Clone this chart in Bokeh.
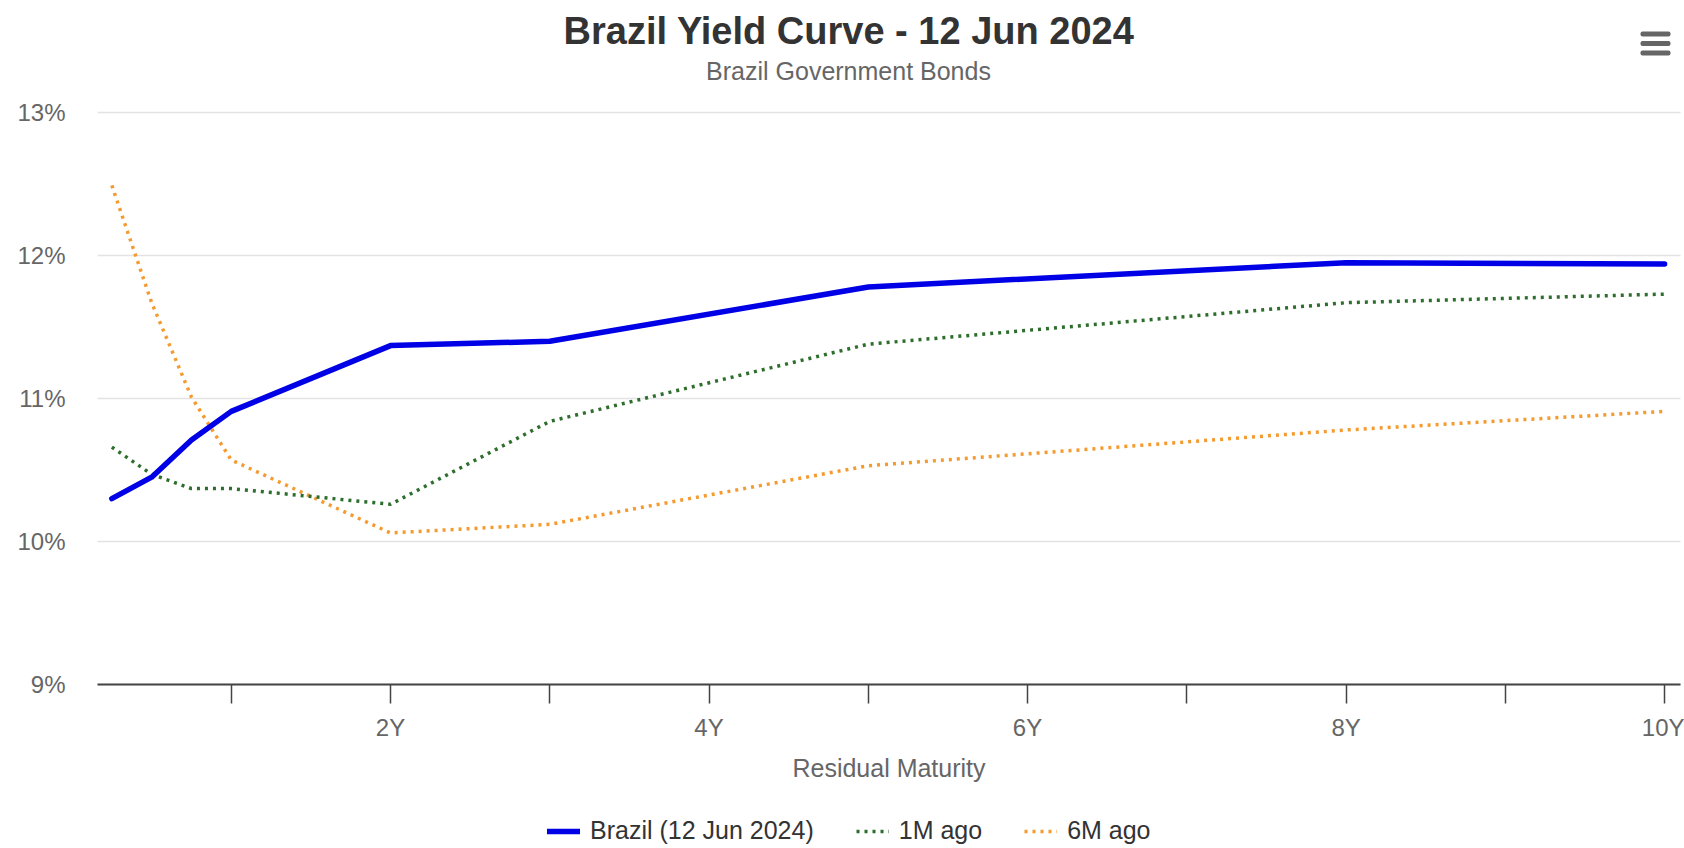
from bokeh.plotting import figure
from bokeh.models import (Label, Legend, LegendItem, FixedTicker, Range1d,
                          BoxAnnotation, ColumnDataSource)
from bokeh.embed import file_html
from bokeh.resources import INLINE

# ---------------- data ----------------
maturity_years = [0.25, 0.5, 0.75, 1, 2, 3, 5, 8, 10]
brazil_now = [10.30, 10.45, 10.71, 10.91, 11.37, 11.40, 11.78, 11.95, 11.94]
one_month_ago = [10.66, 10.47, 10.37, 10.37, 10.26, 10.84, 11.38, 11.67, 11.73]
six_months_ago = [12.49, 11.67, 11.01, 10.57, 10.06, 10.12, 10.53, 10.78, 10.91]

series_names = ["Brazil (12 Jun 2024)", "1M ago", "6M ago"]
x_tick_values = [1, 2, 3, 4, 5, 6, 7, 8, 9, 10]
x_tick_labels = ["", "2Y", "", "4Y", "", "6Y", "", "8Y", "", "10Y"]
y_tick_values = [9, 10, 11, 12, 13]
y_tick_labels = ["9%", "10%", "11%", "12%", "13%"]

title_text = "Brazil Yield Curve - 12 Jun 2024"
subtitle_text = "Brazil Government Bonds"
x_axis_title = "Residual Maturity"

FONT = "Liberation Sans"

# ---------------- layout (pixels of the 1684x848 canvas) ----------------
W, H = 1684, 848
PLOT_L, PLOT_R = 97, 1680        # plotting area, left/right
PLOT_T, PLOT_B = 112, 684        # rows of 13% and 9%
X0, X1 = 0.16, 10.10             # years at PLOT_L / PLOT_R
Y0, Y1 = 9, 13                   # values at PLOT_B / PLOT_T

px_per_x = (PLOT_R - PLOT_L) / (X1 - X0)
px_per_y = (PLOT_B - PLOT_T) / (Y1 - Y0)
x_range = Range1d(X0 - PLOT_L / px_per_x, X1 + (W - PLOT_R) / px_per_x)
y_range = Range1d(Y0 - (H - PLOT_B) / px_per_y, Y1 + PLOT_T / px_per_y)

src = ColumnDataSource(dict(x=maturity_years, now=brazil_now,
                            m1=one_month_ago, m6=six_months_ago))

p = figure(width=W, height=H, output_backend="svg", toolbar_location=None,
           x_range=x_range, y_range=y_range,
           min_border_left=0, min_border_right=0, min_border_top=0,
           min_border_bottom=0)
p.outline_line_color = None
p.background_fill_color = "white"
p.border_fill_color = "white"
p.xgrid.grid_line_color = None
p.ygrid.grid_line_color = None

# horizontal grid lines across the plotting area
grid_src = ColumnDataSource(dict(x0=[X0] * len(y_tick_values),
                                 x1=[X1] * len(y_tick_values),
                                 y=y_tick_values))
p.segment(x0="x0", x1="x1", y0="y", y1="y", source=grid_src,
          line_color="#e3e3e3", line_width=1.5)

# x axis, pinned at the 9% level
xa = p.xaxis[0]
xa.fixed_location = Y0
xa.bounds = (X0, X1)
xa.ticker = FixedTicker(ticks=x_tick_values)
xa.major_label_overrides = {v: l for v, l in zip(x_tick_values, x_tick_labels)}
xa.axis_line_color = "#444444"
xa.axis_line_width = 2
xa.major_tick_line_color = "#444444"
xa.major_tick_line_width = 1.5
xa.major_tick_out = 19
xa.major_tick_in = 0
xa.minor_tick_line_color = None
xa.major_label_standoff = 10
xa.major_label_text_font = FONT
xa.major_label_text_font_size = "24px"
xa.major_label_text_color = "#666666"
xa.axis_label = x_axis_title
xa.axis_label_text_font = FONT
xa.axis_label_text_font_size = "25px"
xa.axis_label_text_font_style = "normal"
xa.axis_label_text_color = "#666666"
xa.axis_label_standoff = 10

# y axis, pinned at the left edge of the plotting area
ya = p.yaxis[0]
ya.fixed_location = X0
ya.bounds = (Y0, Y1)
ya.ticker = FixedTicker(ticks=y_tick_values)
ya.major_label_overrides = {v: l for v, l in zip(y_tick_values, y_tick_labels)}
ya.axis_line_color = None
ya.major_tick_line_color = None
ya.minor_tick_line_color = None
ya.major_tick_out = 0
ya.major_tick_in = 0
ya.major_label_standoff = 32
ya.major_label_text_font = FONT
ya.major_label_text_font_size = "24px"
ya.major_label_text_color = "#666666"

# lines
r6 = p.line("x", "m6", source=src, line_color="#f59a2f", line_width=3.5,
            line_dash="3 5")
r1 = p.line("x", "m1", source=src, line_color="#2d6e2d", line_width=3.5,
            line_dash="3 5")
r0 = p.line("x", "now", source=src, line_color="#0000e6", line_width=5.5,
            line_join="round", line_cap="round")

legend = Legend(items=[LegendItem(label=series_names[0], renderers=[r0]),
                       LegendItem(label=series_names[1], renderers=[r1]),
                       LegendItem(label=series_names[2], renderers=[r6])],
                orientation="horizontal", location=(547, 3),
                label_text_font=FONT, label_text_font_size="25px",
                label_text_color="#333333", glyph_width=33, glyph_height=20,
                label_standoff=10, spacing=42, padding=0, margin=0,
                border_line_color=None, background_fill_alpha=0)
p.add_layout(legend, "center")

# titles (screen units from the canvas bottom-left)
p.add_layout(Label(x=848.5, y=H - 30.7, x_units="screen", y_units="screen",
                   text=title_text, text_font=FONT, text_font_size="38px",
                   text_font_style="bold", text_color="#333333",
                   text_align="center", text_baseline="alphabetic"))
p.add_layout(Label(x=848, y=H - 70.5, x_units="screen", y_units="screen",
                   text=subtitle_text, text_font=FONT, text_font_size="25px",
                   text_color="#666666", text_align="center",
                   text_baseline="alphabetic"))

# menu icon
for row in (33.5, 43, 52.5):
    p.add_layout(BoxAnnotation(left=1640, right=1670, top=H - row + 2.5,
                               bottom=H - row - 2.5, left_units="screen",
                               right_units="screen", top_units="screen",
                               bottom_units="screen", fill_color="#666666",
                               fill_alpha=1, line_color=None,
                               border_radius=2))

open("out.html", "w").write(file_html(p, INLINE))
